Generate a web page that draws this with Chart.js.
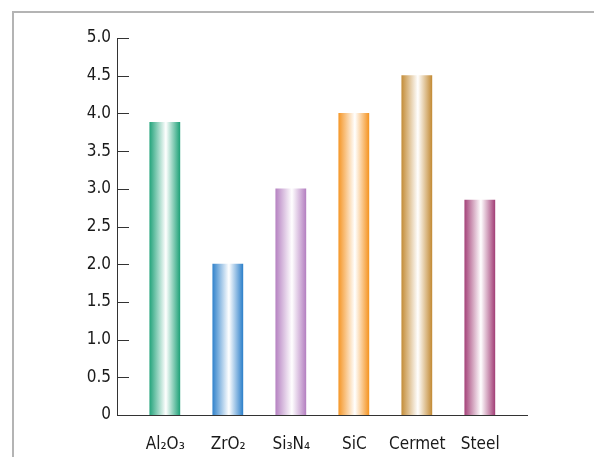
<!DOCTYPE html>
<html>
<head>
<meta charset="utf-8">
<script src="https://cdn.jsdelivr.net/npm/chart.js@4/dist/chart.umd.min.js"></script>
<style>
  html, body { margin: 0; padding: 0; background: #fff; }
  #wrap { position: relative; width: 594px; height: 457px; overflow: hidden; }
  #frame { position: absolute; left: 12px; top: 11px; width: 700px; height: 700px;
           border-left: 2px solid #b4b4b4; border-top: 2px solid #b4b4b4; }
  canvas { position: absolute; left: 0; top: 0; }
</style>
</head>
<body>
<div id="wrap">
  <div id="frame"></div>
  <canvas id="c" width="594" height="457"></canvas>
</div>
<script>
const categories = ['Al\u2082O\u2083', 'ZrO\u2082', 'Si\u2083N\u2084', 'SiC', 'Cermet', 'Steel'];
const values = [3.88, 2.0, 3.0, 4.0, 4.5, 2.85];
const barColors = ['#27a57d', '#3585cc', '#b784c3', '#f5982a', '#c58f3c', '#a6467c'];
const yTicks = [0, 0.5, 1.0, 1.5, 2.0, 2.5, 3.0, 3.5, 4.0, 4.5, 5.0];

const BAR_W = 31;
const FONT = "'DejaVu Sans Condensed', 'DejaVu Sans', sans-serif";

const gradientBars = {
  id: 'gradientBars',
  beforeDatasetsDraw(chart) {
    const meta = chart.getDatasetMeta(0);
    meta.data.forEach((el, i) => {
      const w = el.width || BAR_W;
      if (!isFinite(el.x)) return;
      const g = chart.ctx.createLinearGradient(el.x - w / 2, 0, el.x + w / 2, 0);
      const c = barColors[i];
      g.addColorStop(0, c);
      g.addColorStop(0.52, '#ffffff');
      g.addColorStop(0.96, c);
      g.addColorStop(1, '#ffffff');
      el.options.backgroundColor = g;
    });
  }
};

const innerTicks = {
  id: 'innerTicks',
  afterDraw(chart) {
    const ys = chart.scales.y;
    const c = chart.ctx;
    c.save();
    c.strokeStyle = '#333';
    c.lineWidth = 1;
    yTicks.forEach(v => {
      if (v === 0) return;
      const y = Math.round(ys.getPixelForValue(v)) + 0.5;
      c.beginPath();
      c.moveTo(ys.right, y);
      c.lineTo(ys.right + 12, y);
      c.stroke();
    });
    c.restore();
  }
};

new Chart(document.getElementById('c'), {
  type: 'bar',
  data: {
    datasets: [{
      data: values.map((v, i) => ({ x: i, y: v })),
      backgroundColor: barColors,
      borderWidth: 0,
      barThickness: BAR_W
    }]
  },
  options: {
    responsive: false,
    animation: false,
    plugins: { legend: { display: false }, tooltip: { enabled: false } },
    layout: { padding: { left: 0, top: 38, right: 67, bottom: 0 } },
    scales: {
      x: {
        type: 'linear',
        offset: false,
        min: -0.766,
        max: 5.742,
        grid: { display: false, drawTicks: false, offset: false },
        border: { display: true, color: '#333', width: 1 },
        ticks: {
          stepSize: 1,
          includeBounds: false,
          autoSkip: false,
          maxRotation: 0,
          padding: 19,
          color: '#1a1a1a',
          font: { family: FONT, size: 17 },
          callback: (v) => Number.isInteger(v) && categories[v] !== undefined ? categories[v] : ''
        },
        afterFit: (s) => { s.height = 42; }
      },
      y: {
        min: 0,
        max: 5,
        grid: { display: false, drawTicks: false },
        border: { display: true, color: '#333', width: 1 },
        ticks: {
          stepSize: 0.5,
          padding: 6,
          color: '#1a1a1a',
          font: { family: FONT, size: 17 },
          callback: (v) => v === 0 ? '0' : v.toFixed(1)
        },
        afterFit: (s) => { s.width = 117; }
      }
    }
  },
  plugins: [gradientBars, innerTicks]
});
</script>
</body>
</html>
